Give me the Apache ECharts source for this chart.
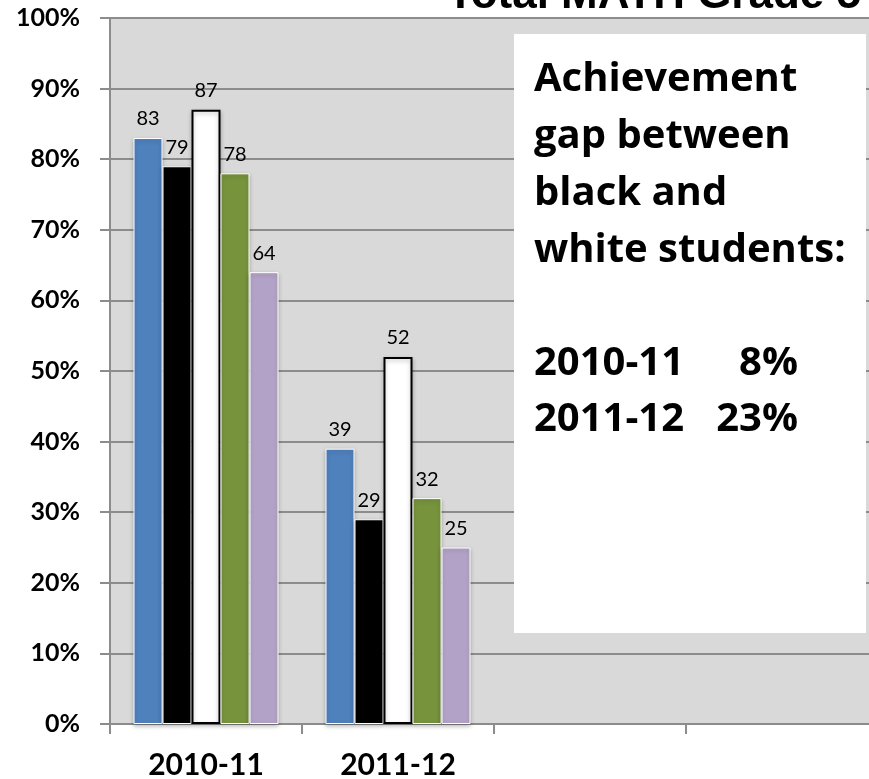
<!DOCTYPE html>
<html>
<head>
<meta charset="utf-8">
<script src="https://cdn.jsdelivr.net/npm/echarts@6/dist/echarts.min.js"></script>
<style>
  html, body { margin: 0; padding: 0; background: #fff; }
  #chart { width: 869px; height: 779px; }
</style>
</head>
<body>
<div id="chart"></div>
<script>
// School years (two empty slots keep room for the note box)
const categories = ['2010-11', '2011-12', '', ''];

// Percent proficient per student group
const groupA = [83, 39];   // blue
const groupB = [79, 29];   // black
const groupC = [87, 52];   // white
const groupD = [78, 32];   // green
const groupE = [64, 25];   // purple

// Black/white gap per year, shown in the note box
const gapYears = ['2010-11', '2011-12'];
const gapValues = ['8%', '23%'];

const FONT = 'Lato, "Open Sans", sans-serif';
const NARROW = '"Liberation Sans Narrow", "Arial Narrow", Lato, sans-serif';
const NOTE_FONT = '"Open Sans", Lato, sans-serif';

function barSeries(name, values, fill, border, borderWidth) {
  return {
    name: name,
    type: 'bar',
    data: values,
    barWidth: 29,
    barGap: '0%',
    itemStyle: {
      color: fill,
      borderColor: border,
      borderWidth: borderWidth,
      shadowColor: 'rgba(0,0,0,0.25)',
      shadowBlur: 4,
      shadowOffsetY: 2
    },
    label: {
      show: true,
      position: 'top',
      distance: 9,
      color: '#000',
      fontFamily: FONT,
      fontSize: 20
    }
  };
}

const chart = echarts.init(document.getElementById('chart'), null, { renderer: 'canvas' });

const textLines = ['Achievement', 'gap between', 'black and', 'white students:'];
const noteStyle = { fontFamily: NOTE_FONT, fontWeight: 'bold', fontSize: 40, fill: '#000' };

const graphics = [
  {
    type: 'rect',
    shape: { x: 514, y: 34, width: 352, height: 599 },
    style: { fill: '#fff' },
    z: 10
  }
];
textLines.forEach((t, i) => {
  graphics.push({
    type: 'text', x: 534, y: 80 + i * 57, z: 11,
    style: Object.assign({ text: t, textVerticalAlign: 'middle' }, noteStyle)
  });
});
gapYears.forEach((yr, i) => {
  const y = 364 + i * 56;
  graphics.push({
    type: 'text', x: 534, y: y, z: 11,
    style: Object.assign({ text: yr, textVerticalAlign: 'middle' }, noteStyle)
  });
  graphics.push({
    type: 'text', x: 798, y: y, z: 11,
    style: Object.assign({ text: gapValues[i], textVerticalAlign: 'middle', textAlign: 'right' }, noteStyle)
  });
});

chart.setOption({
  animation: false,
  backgroundColor: '#fff',
  title: {
    text: 'Total MATH Grade 5',
    right: 8,
    top: -26,
    padding: 0,
    textStyle: { fontFamily: '"Liberation Sans", Arial, sans-serif', fontWeight: 'bold', fontSize: 44, color: '#000' }
  },
  grid: {
    left: 110,
    top: 18,
    width: 768,
    height: 706,
    containLabel: false,
    outerBoundsMode: 'none',
    show: true,
    backgroundColor: '#d9d9d9',
    borderWidth: 0
  },
  xAxis: {
    type: 'category',
    data: categories,
    axisLine: { lineStyle: { color: '#8c8c8c', width: 2 } },
    axisTick: { show: true, alignWithLabel: false, length: 10, lineStyle: { color: '#8c8c8c', width: 2 } },
    axisLabel: { margin: 26, color: '#000', fontFamily: FONT, fontWeight: 'bold', fontSize: 30 }
  },
  yAxis: {
    type: 'value',
    min: 0,
    max: 100,
    interval: 10,
    axisLine: { show: true, lineStyle: { color: '#8c8c8c', width: 2 } },
    axisTick: { show: true, length: 10, lineStyle: { color: '#8c8c8c', width: 2 } },
    axisLabel: { formatter: '{value}%', margin: 30, color: '#000', fontFamily: NARROW, fontWeight: 'bold', fontSize: 25 },
    splitLine: { show: true, lineStyle: { color: '#8c8c8c', width: 2 } }
  },
  series: [
    barSeries('A', groupA, '#4f81bd', '#fff', 1),
    barSeries('B', groupB, '#000000', '#fff', 1),
    barSeries('C', groupC, '#ffffff', '#000', 2),
    barSeries('D', groupD, '#77933c', '#fff', 1),
    barSeries('E', groupE, '#b3a2c7', '#fff', 1)
  ],
  graphic: graphics
});
</script>
</body>
</html>
